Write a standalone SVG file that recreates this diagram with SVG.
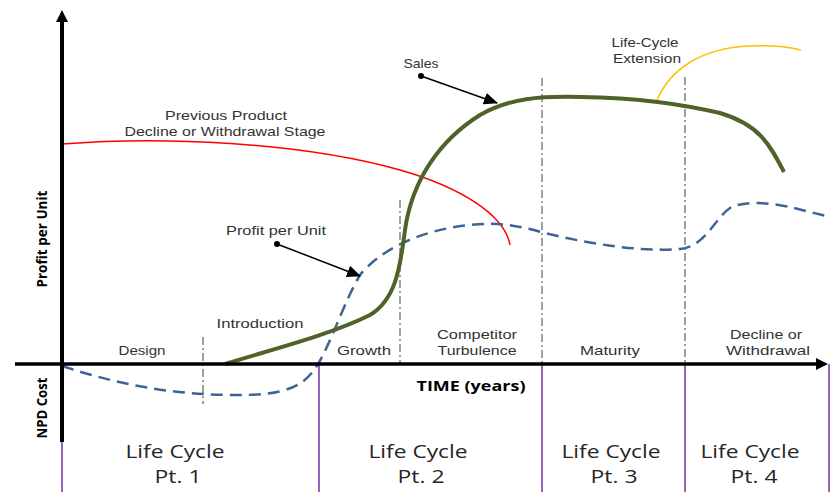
<svg xmlns="http://www.w3.org/2000/svg" width="831" height="492" viewBox="0 0 831 492">
<defs>
<style>
text{font-family:"Open Sans","Liberation Sans",sans-serif;fill:#333;text-anchor:middle}
.s{font-family:"Liberation Sans","Open Sans",sans-serif;font-size:13px}
.b{font-size:18px;fill:#262626}
.ax{font-size:14px;font-weight:bold;fill:#000}
.dd{stroke:#808080;stroke-width:1.5;stroke-dasharray:8 3 2 3;fill:none}
.pl{stroke:#7030a0;stroke-width:1.5;fill:none}
.ptr{stroke:#000;stroke-width:1.5;fill:none}
</style>
<marker id="ptrh" markerWidth="14" markerHeight="12" refX="13" refY="6" orient="auto" markerUnits="userSpaceOnUse"><path d="M0,0 L14,6 L0,12 Z" fill="#000"/></marker>
</defs>
<rect width="831" height="492" fill="#fff"/>
<g id="dividers">
<line class="dd" x1="203" y1="337" x2="203" y2="404"/>
<line class="dd" x1="400" y1="200" x2="400" y2="364"/>
<line class="dd" x1="542" y1="78" x2="542" y2="364"/>
<line class="dd" x1="685" y1="77" x2="685" y2="364"/>
<line class="pl" x1="62" y1="440" x2="62" y2="492"/>
<line class="pl" x1="319" y1="364" x2="319" y2="492"/>
<line class="pl" x1="542" y1="364" x2="542" y2="492"/>
<line class="pl" x1="685" y1="364" x2="685" y2="492"/>
<line class="pl" x1="829" y1="364" x2="829" y2="492"/>
</g>
<g id="curves">
<path id="previous-product" d="M62,144 C160,136 300,142 400,170 C460,187 505,215 510,245" stroke="#ff0000" stroke-width="1.5" fill="none"/>
<path id="extension" d="M657,100 C670,70 700,48 750,46 C775,45 790,47 801,50" stroke="#ffc000" stroke-width="1.5" fill="none"/>
<path id="profit" d="M62,366 C120,385 170,394 230,395 C290,396 305,385 318,364 C330,345 345,300 360,275 C380,250 420,230 470,225 C500,222 515,225 545,233 C590,244 640,252 680,249 C705,247 715,218 730,208 C745,200 770,203 790,207 L830,217" stroke="#3e6496" stroke-width="2.5" stroke-dasharray="12 7" fill="none"/>
<path id="sales" d="M225,364 C270,350 330,335 370,315 C395,300 400,270 405,230 C412,180 440,140 480,115 C510,98 540,96 580,97 C640,98 680,104 720,113 C760,125 770,145 784,172" stroke="#4f6228" stroke-width="4" fill="none"/>
</g>
<g id="axes">
<line x1="62" y1="442" x2="62" y2="20" stroke="#000" stroke-width="4"/>
<path d="M62,10 L56,22 L68,22 Z" fill="#000"/>
<line x1="15" y1="364" x2="818" y2="364" stroke="#000" stroke-width="3.5"/>
<path d="M828,364 L816,358 L816,370 Z" fill="#000"/>
</g>
<g id="connectors">
<line class="ptr" x1="421" y1="76" x2="497" y2="103" marker-end="url(#ptrh)"/>
<circle cx="421" cy="76" r="3" fill="#000"/>
<line class="ptr" x1="277" y1="244" x2="360" y2="276" marker-end="url(#ptrh)"/>
<circle cx="277" cy="244" r="3" fill="#000"/>
</g>
<g id="labels">
<text class="s" x="226" y="120" textLength="122" lengthAdjust="spacingAndGlyphs">Previous Product</text>
<text class="s" x="225" y="136" textLength="201" lengthAdjust="spacingAndGlyphs">Decline or Withdrawal Stage</text>
<text class="s" x="421" y="68" textLength="35" lengthAdjust="spacingAndGlyphs">Sales</text>
<text class="s" x="645" y="47" textLength="67" lengthAdjust="spacingAndGlyphs">Life-Cycle</text>
<text class="s" x="647" y="63" textLength="68" lengthAdjust="spacingAndGlyphs">Extension</text>
<text class="s" x="276" y="235" textLength="100" lengthAdjust="spacingAndGlyphs">Profit per Unit</text>
<text class="s" x="260" y="328" textLength="87" lengthAdjust="spacingAndGlyphs">Introduction</text>
<text class="s" x="142" y="355" textLength="47" lengthAdjust="spacingAndGlyphs">Design</text>
<text class="s" x="364" y="355" textLength="54" lengthAdjust="spacingAndGlyphs">Growth</text>
<text class="s" x="477" y="339" textLength="80" lengthAdjust="spacingAndGlyphs">Competitor</text>
<text class="s" x="477" y="355" textLength="79" lengthAdjust="spacingAndGlyphs">Turbulence</text>
<text class="s" x="610" y="355" textLength="60" lengthAdjust="spacingAndGlyphs">Maturity</text>
<text class="s" x="766" y="339" textLength="72" lengthAdjust="spacingAndGlyphs">Decline or</text>
<text class="s" x="768" y="355" textLength="84" lengthAdjust="spacingAndGlyphs">Withdrawal</text>
<text class="ax" x="471" y="391" textLength="109" lengthAdjust="spacingAndGlyphs">TIME (years)</text>
<text class="ax" transform="translate(47,239) rotate(-90)" textLength="97" lengthAdjust="spacingAndGlyphs">Profit per Unit</text>
<text class="ax" transform="translate(47,408) rotate(-90)" textLength="61" lengthAdjust="spacingAndGlyphs">NPD Cost</text>
</g>
<g id="life-cycle-1"><text class="b" x="175" y="458" textLength="99" lengthAdjust="spacingAndGlyphs">Life Cycle</text><text class="b" x="178" y="483" textLength="47" lengthAdjust="spacingAndGlyphs">Pt. 1</text></g>
<g id="life-cycle-2"><text class="b" x="418" y="458" textLength="99" lengthAdjust="spacingAndGlyphs">Life Cycle</text><text class="b" x="421" y="483" textLength="47" lengthAdjust="spacingAndGlyphs">Pt. 2</text></g>
<g id="life-cycle-3"><text class="b" x="611" y="458" textLength="99" lengthAdjust="spacingAndGlyphs">Life Cycle</text><text class="b" x="614" y="483" textLength="47" lengthAdjust="spacingAndGlyphs">Pt. 3</text></g>
<g id="life-cycle-4"><text class="b" x="750" y="458" textLength="99" lengthAdjust="spacingAndGlyphs">Life Cycle</text><text class="b" x="754" y="483" textLength="47" lengthAdjust="spacingAndGlyphs">Pt. 4</text></g>
</svg>
